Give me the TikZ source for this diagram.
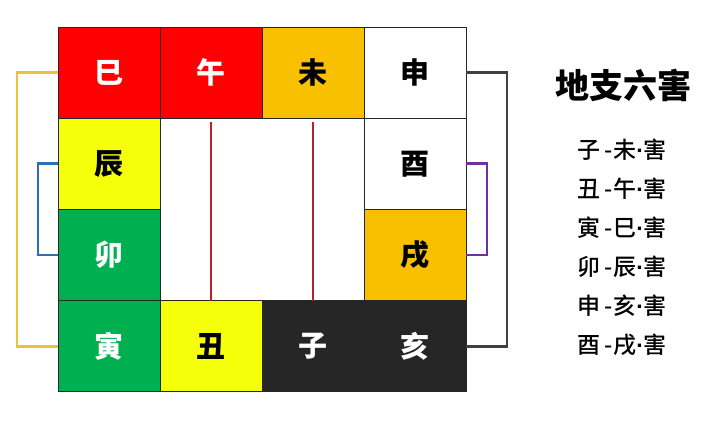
\documentclass[tikz,border=0pt]{standalone}
\usepackage{fontspec}
\setmainfont{Noto Sans CJK SC}
\newfontfamily\midfont{Noto Sans CJK SC Medium}
\newfontfamily\blackfont{Noto Sans CJK SC Black}
\newfontfamily\dotfont{Liberation Sans}
\usetikzlibrary{positioning}
\definecolor{zred}{HTML}{FF0000}
\definecolor{zorange}{HTML}{F9C000}
\definecolor{zyellow}{HTML}{F6FF0A}
\definecolor{zgreen}{HTML}{00B050}
\definecolor{zdark}{HTML}{262626}
\definecolor{zgold}{HTML}{EAC23C}
\definecolor{zblue}{HTML}{2E6FB0}
\definecolor{zgray}{HTML}{404040}
\definecolor{zpurple}{HTML}{7030A0}
\definecolor{zwine}{HTML}{B8232B}
\newcommand{\harm}[2]{#1\hspace{4pt}-\hspace{1pt}#2{\dotfont\bfseries\raisebox{0pt}{·}}害}

\begin{document}
\begin{tikzpicture}[
  x=1pt,y=-1pt,
  cell/.style={draw=black!85,line width=0.8pt,outer sep=0pt,inner sep=0pt,
    minimum width=102pt,minimum height=91.2pt,font=\fontsize{29}{29}\selectfont\blackfont},
  link/.style={line width=2.8pt},
  pair/.style={font=\fontsize{23}{23}\selectfont\midfont,inner sep=0pt}
]
\fill[white] (0,0) rectangle (718,424);
\useasboundingbox (0,0) rectangle (718,424);
% the twelve branches
\node[cell,fill=zred,text=white] (si) at (109,72.6) {巳};
\node[cell,fill=zred,text=white,right=0pt of si] (wu) {午};
\node[cell,fill=zorange,right=0pt of wu] (wei) {未};
\node[cell,fill=white,right=0pt of wei] (shen) {申};
\node[cell,fill=zyellow,below=0pt of si] (chen) {辰};
\node[cell,fill=white,below=0pt of shen] (you) {酉};
\node[cell,fill=zgreen,text=white,below=0pt of chen] (mao) {卯};
\node[cell,fill=zorange,below=0pt of you] (xu) {戌};
\node[cell,fill=zgreen,text=white,below=0pt of mao] (yin) {寅};
\node[cell,fill=zyellow,right=0pt of yin] (chou) {丑};
\node[cell,fill=zdark,text=white,right=0pt of chou] (zi) {子};
\node[cell,fill=zdark,text=white,right=0pt of zi] (hai) {亥};
% pairs
\draw[link,draw=zgold] (si.west) -- ++(-41,0) |- (yin.west);
\draw[link,draw=zblue] (chen.west) -- ++(-20,0) |- (mao.west);
\draw[link,draw=zgray] (shen.east) -- ++(41,0) |- (hai.east);
\draw[link,draw=zpurple] (you.east) -- ++(21,0) |- (xu.east);
\draw[link,draw=zwine,shorten <=4pt] (wu.south) -- (chou.north);
\draw[link,draw=zwine,shorten <=4pt] (wei.south) -- (zi.north);
% legend
\node[font=\fontsize{34}{34}\selectfont\bfseries] (title) at (623,85) {地支六害};
\node[pair] (p1) at (622,150) {\harm{子}{未}};
\node[pair] (p2) at (622,189) {\harm{丑}{午}};
\node[pair] (p3) at (622,228) {\harm{寅}{巳}};
\node[pair] (p4) at (622,267) {\harm{卯}{辰}};
\node[pair] (p5) at (622,306) {\harm{申}{亥}};
\node[pair] (p6) at (622,345) {\harm{酉}{戌}};
\end{tikzpicture}
\end{document}
